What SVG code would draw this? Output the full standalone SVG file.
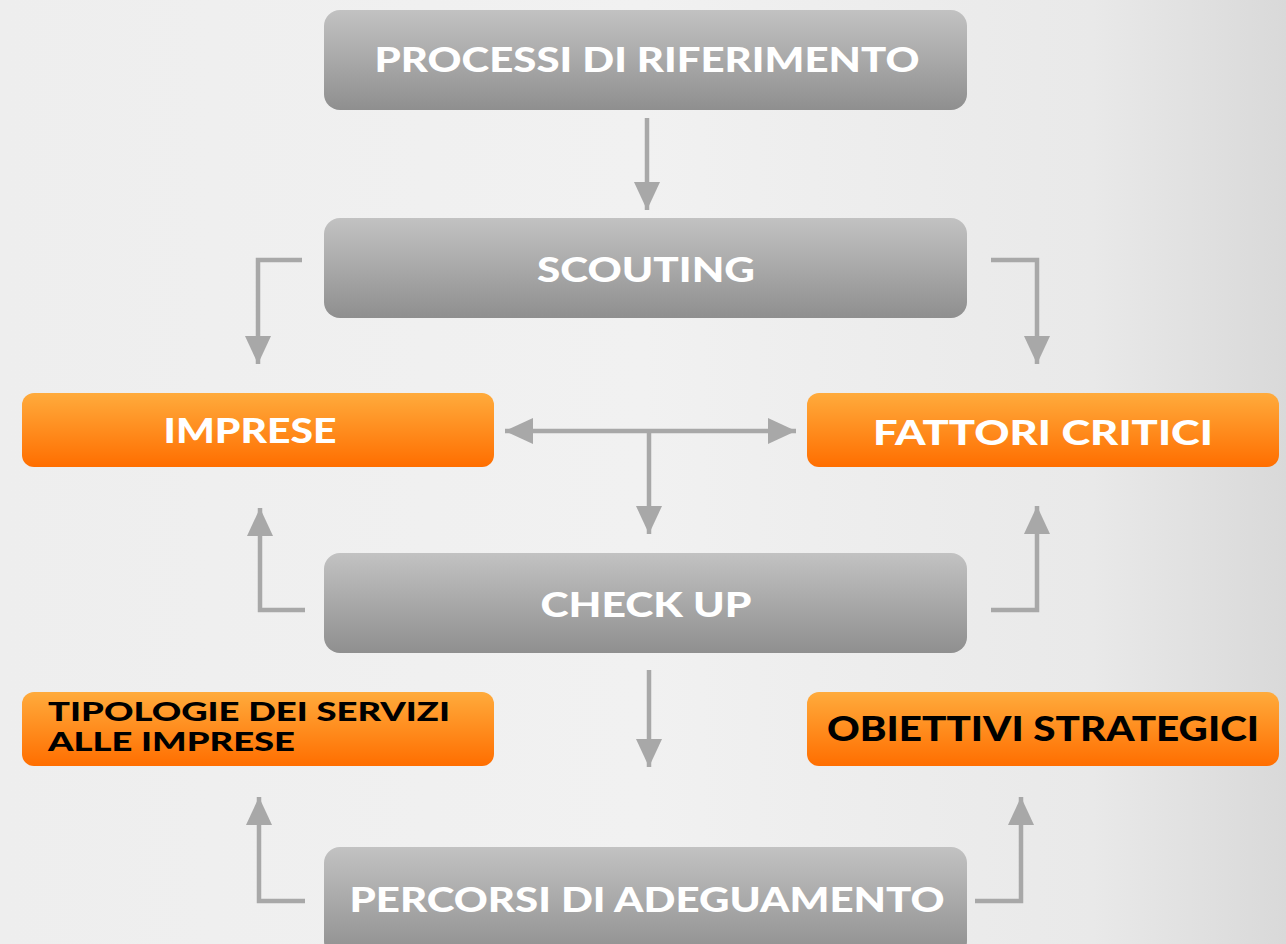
<svg xmlns="http://www.w3.org/2000/svg" width="1286" height="944" viewBox="0 0 1286 944">
<defs>
<linearGradient id="bg" x1="0" y1="0" x2="1" y2="0">
<stop offset="0" stop-color="#eeeeee"/>
<stop offset="0.5" stop-color="#f1f1f1"/>
<stop offset="0.85" stop-color="#e9e9e9"/>
<stop offset="1" stop-color="#d9d9d9"/>
</linearGradient>
<linearGradient id="gray" x1="0" y1="0" x2="0" y2="1">
<stop offset="0" stop-color="#c2c2c2"/>
<stop offset="1" stop-color="#8f8f8f"/>
</linearGradient>
<linearGradient id="orange" x1="0" y1="0" x2="0" y2="1">
<stop offset="0" stop-color="#ffab3c"/>
<stop offset="1" stop-color="#ff6e00"/>
</linearGradient>
<marker id="ah" markerUnits="userSpaceOnUse" markerWidth="30" markerHeight="26" refX="28" refY="13" orient="auto-start-reverse" viewBox="0 0 30 26">
<path d="M0,0 L28,13 L0,26 Z" fill="#a8a8a8"/>
</marker>
</defs>
<style>
.gbox{fill:url(#gray);}
.obox{fill:url(#orange);}
.wt{font-family:Lato,"Open Sans","Liberation Sans",sans-serif;font-weight:900;fill:#ffffff;text-anchor:middle;}
.bt{font-family:Lato,"Open Sans","Liberation Sans",sans-serif;font-weight:900;fill:#000000;}
.conn path{fill:none;stroke:#a8a8a8;stroke-width:4.5;marker-end:url(#ah);}
</style>
<rect x="0" y="0" width="1286" height="944" fill="url(#bg)"/>

<g id="processi">
<rect class="gbox" x="324" y="10" width="643" height="100" rx="16"/>
<text class="wt" x="647" y="72" font-size="35" textLength="545" lengthAdjust="spacingAndGlyphs">PROCESSI DI RIFERIMENTO</text>
</g>
<g id="scouting">
<rect class="gbox" x="324" y="218" width="643" height="100" rx="16"/>
<text class="wt" x="646" y="282" font-size="35" textLength="218" lengthAdjust="spacingAndGlyphs">SCOUTING</text>
</g>
<g id="imprese">
<rect class="obox" x="22" y="393" width="472" height="74" rx="12"/>
<text class="wt" x="250" y="443" font-size="35" textLength="173" lengthAdjust="spacingAndGlyphs">IMPRESE</text>
</g>
<g id="fattori">
<rect class="obox" x="807" y="393" width="472" height="74" rx="12"/>
<text class="wt" x="1043" y="445" font-size="35" textLength="340" lengthAdjust="spacingAndGlyphs">FATTORI CRITICI</text>
</g>
<g id="checkup">
<rect class="gbox" x="324" y="553" width="643" height="100" rx="16"/>
<text class="wt" x="646" y="617" font-size="35" textLength="211" lengthAdjust="spacingAndGlyphs">CHECK UP</text>
</g>
<g id="tipologie">
<rect class="obox" x="22" y="692" width="472" height="74" rx="12"/>
<text class="bt" x="48" y="721" font-size="27" textLength="402" lengthAdjust="spacingAndGlyphs">TIPOLOGIE DEI SERVIZI</text>
<text class="bt" x="48" y="751" font-size="27" textLength="247" lengthAdjust="spacingAndGlyphs">ALLE IMPRESE</text>
</g>
<g id="obiettivi">
<rect class="obox" x="807" y="692" width="472" height="74" rx="12"/>
<text class="bt" x="827" y="741" font-size="34" textLength="432" lengthAdjust="spacingAndGlyphs">OBIETTIVI STRATEGICI</text>
</g>
<g id="percorsi">
<rect class="gbox" x="324" y="847" width="643" height="110" rx="16"/>
<text class="wt" x="647" y="912" font-size="35" textLength="595" lengthAdjust="spacingAndGlyphs">PERCORSI DI ADEGUAMENTO</text>
</g>

<g id="connectors" class="conn">
<path d="M647,118 L647,210"/>
<path d="M302,260 L258,260 L258,364"/>
<path d="M991,260 L1037,260 L1037,364"/>
<path d="M649,431 L505,431"/>
<path d="M649,431 L796,431"/>
<path d="M649,431 L649,534"/>
<path d="M305,610 L260,610 L260,508"/>
<path d="M991,610 L1037,610 L1037,506"/>
<path d="M649,670 L649,767"/>
<path d="M305,901 L259,901 L259,797"/>
<path d="M975,901 L1021,901 L1021,797"/>
</g>
</svg>
